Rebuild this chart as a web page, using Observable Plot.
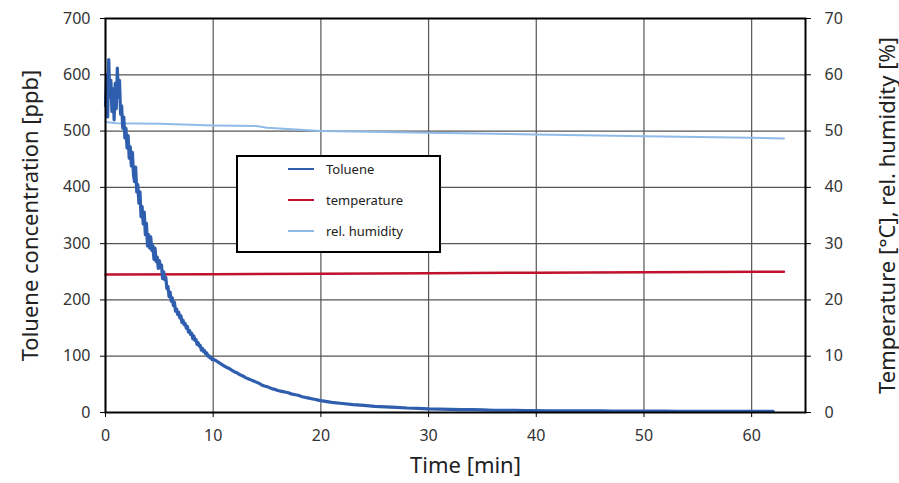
<!DOCTYPE html>
<html><head><meta charset="utf-8">
<script src="https://cdn.jsdelivr.net/npm/d3@7"></script>
<script src="https://cdn.jsdelivr.net/npm/@observablehq/plot@0.6"></script>
<style>
body{margin:0;background:#fff;}
#wrap{position:relative;width:899px;height:483px;font-family:"Noto Sans",sans-serif;}
#legend{position:absolute;left:236px;top:155px;width:205px;height:98px;border:2px solid #000;background:#fff;box-sizing:border-box;}
#legend .row{position:absolute;left:50px;height:16px;display:flex;align-items:center;font-size:13px;color:#222;}
#legend .sw{width:26px;height:2px;margin-right:12px;}
</style></head>
<body><div id="wrap"><div id="legend"></div></div>
<script>
// Time [min] / toluene [ppb]
const tolueneT = [
0,0.1,0.2,0.3,0.4,0.5,0.6,0.7,0.8,0.9,1.0,
1.1,1.2,1.3,1.4,1.5,1.6,1.7,1.8,1.9,2.0,
2.1,2.2,2.3,2.4,2.5,2.6,2.7,2.8,2.9,3.0,
3.1,3.2,3.3,3.4,3.5,3.6,3.7,3.8,3.9,4.0,
4.1,4.2,4.3,4.4,4.5,4.6,4.7,4.8,4.9,5.0,
5.1,5.2,5.3,5.4,5.5,5.6,5.7,5.8,5.9,6.0,
6.1,6.2,6.3,6.4,6.5,6.6,6.7,6.8,6.9,7.0,
7.1,7.2,7.3,7.4,7.5,7.6,7.7,7.8,7.9,8.0,
8.1,8.2,8.3,8.4,8.5,8.6,8.7,8.8,8.9,9.0,
9.1,9.2,9.3,9.4,9.5,9.6,9.7,9.8,9.9,10.0,
10.25,10.5,10.75,11,11.25,11.5,11.75,12,12.25,12.5,12.75,13,13.25,13.5,13.75,14,14.25,14.5,14.75,15,
15.25,15.5,15.75,16,16.25,16.5,16.75,17,17.25,17.5,17.75,18,18.25,18.5,18.75,19,19.25,19.5,19.75,20,
21,22,23,24,25,26,27,28,29,30,31,32,33,34,35,36,37,38,39,40,
41,42,43,44,45,46,47,48,49,50,51,52,53,54,55,56,57,58,59,60,61,62
];
const tolueneV = [
545,600,525,627,560,590,535,575,520,585,540,
612,560,590,530,545,505,525,488,505,470,
492,452,472,438,462,422,410,436,392,405,
372,392,348,366,335,356,316,336,296,316,
292,312,288,296,272,292,268,276,256,270,
258,262,238,250,236,240,220,224,206,214,
198,204,190,196,180,184,174,178,168,172,
160,164,156,158,150,153,143,146,139,141,
131,136,128,130,121,124,118,119,111,114,
108,110,104,106,100,101,97,98,94,95,
92,89,86,83,80,78,75,72,70,67,65,62,60,58,56,54,52,49,47,46,
44,42,41,39,38,37,36,35,33,32,31,30,28,27,26,25,24,23,22,21,
18,16,14,12.5,11,10,9,8,7.5,6.5,6,5.5,5,5,4.5,4,4,4,3.5,3.5,
3,3,3,3,3,3,2.5,2.5,2.5,2.5,2.5,2.5,2,2,2,2,2,2,2,2,2,2
];
// Time [min] / temperature [°C]
const tempT = [0,10,20,30,40,50,63];
const tempV = [24.5,24.55,24.65,24.75,24.85,24.9,25.0];
// Time [min] / relative humidity [%]
const humT = [0,1,5,10,14,15,20,30,40,50,60,63];
const humV = [51.6,51.4,51.3,51.0,50.9,50.6,50.0,49.7,49.4,49.1,48.8,48.7];

const xTicks = [0,10,20,30,40,50,60];
const yTicks = [0,100,200,300,400,500,600,700];
const rightScale = 10; // right axis 0–70 maps onto left axis 0–700

const seriesNames = ["Toluene","temperature","rel. humidity"];
const seriesColors = ["#2f5eae","#c0122c","#8ebbe8"];

const toluene = tolueneT.map((t,i)=>({t, v: tolueneV[i]}));
const temp = tempT.map((t,i)=>({t, v: tempV[i]}));
const hum = humT.map((t,i)=>({t, v: humV[i]}));

const chart = Plot.plot({
  width: 899, height: 483,
  marginLeft: 105, marginRight: 94, marginTop: 18, marginBottom: 71,
  style: {fontFamily: "'Noto Sans', sans-serif", fontSize: "16px", color: "#333", background: "white", overflow: "visible"},
  x: {domain: [0,65]},
  y: {domain: [0,700]},
  marks: [
    Plot.gridX(xTicks, {stroke: "#555", strokeOpacity: 1, strokeWidth: 1.2}),
    Plot.gridY(yTicks, {stroke: "#555", strokeOpacity: 1, strokeWidth: 1.2}),
    Plot.line(hum, {x: "t", y: d => d.v * rightScale, stroke: seriesColors[2], strokeWidth: 2}),
    Plot.line(temp, {x: "t", y: d => d.v * rightScale, stroke: seriesColors[1], strokeWidth: 2.5}),
    Plot.line(toluene, {x: "t", y: "v", stroke: seriesColors[0], strokeWidth: 3.2}),
    Plot.frame({stroke: "#000", strokeWidth: 2}),
    Plot.axisX({ticks: xTicks, tickSize: 5, tickPadding: 12, label: null, stroke: "#000"}),
    Plot.axisY({ticks: yTicks, tickSize: 5, tickPadding: 10, label: null, stroke: "#000"}),
    Plot.axisY({anchor: "right", ticks: yTicks, tickSize: 5, tickPadding: 14, tickFormat: d => d / rightScale, label: null, stroke: "#000"}),
    Plot.text(["Time [min]"], {frameAnchor: "bottom", textAnchor: "middle", dx: 10, dy: 60, fontSize: 22, fill: "#222"}),
    Plot.text(["Toluene concentration [ppb]"], {frameAnchor: "left", textAnchor: "middle", dx: -75, rotate: -90, fontSize: 22, fill: "#222"}),
    Plot.text(["Temperature [°C], rel. humidity [%]"], {frameAnchor: "right", textAnchor: "middle", dx: 82, rotate: -90, fontSize: 22, fill: "#222"})
  ]
});
document.getElementById("wrap").prepend(chart);

const legend = document.getElementById("legend");
seriesNames.forEach((name, i) => {
  const row = document.createElement("div");
  row.className = "row";
  row.style.top = (4 + i * 31) + "px";
  row.innerHTML = `<span class="sw" style="background:${seriesColors[i]}"></span><span>${name}</span>`;
  legend.appendChild(row);
});
</script>
</body></html>
